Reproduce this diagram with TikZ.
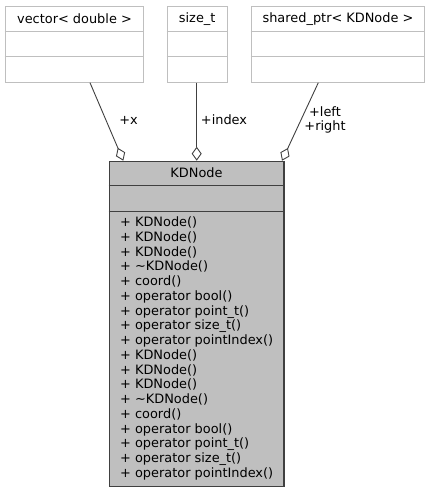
\documentclass[tikz,border=0pt]{standalone}
\usepackage{fontspec}
\setmainfont{DejaVu Sans}
\usetikzlibrary{arrows.meta,calc}
\definecolor{lightedge}{HTML}{BFBFBF}
\definecolor{darkedge}{HTML}{404040}
\definecolor{classfill}{HTML}{BFBFBF}
\begin{document}
\begin{tikzpicture}[x=1pt,y=-1pt,
  extbox/.style={draw=lightedge, line width=1pt, fill=white, rectangle, inner sep=0pt, anchor=north west},
  mainbox/.style={draw=darkedge, line width=1.2pt, fill=classfill, rectangle, inner sep=0pt, anchor=north west},
  txt/.style={inner sep=0pt, font=\fontsize{12.9}{14.76}\selectfont, text=black},
  memb/.style={txt, anchor=base west},
  assoc/.style={draw=darkedge, line width=0.9pt, -{Diamond[open, fill=white, length=14pt, width=10pt]}},
]
\useasboundingbox (0,0) rectangle (431,492);

% external classes
\node[extbox, minimum width=138.6pt, minimum height=76pt] (vec) at (4.7,5.7) {};
\node[extbox, minimum width=60pt, minimum height=76pt] (sz) at (166.7,5.7) {};
\node[extbox, minimum width=173.6pt, minimum height=76pt] (sp) at (250.7,5.7) {};
\foreach \b in {vec,sz,sp}{
  \draw[lightedge, line width=1pt] ($(\b.north west)+(0,26)$) -- ($(\b.north east)+(0,26)$);
  \draw[lightedge, line width=1pt] ($(\b.north west)+(0,51)$) -- ($(\b.north east)+(0,51)$);
}
\node[txt] (vect) at ($(vec.north)+(0,13)$) {vector< double >};
\node[txt] (szt) at ($(sz.north)+(0,13)$) {size\_t};
\node[txt] (spt) at ($(sp.north)+(0,13)$) {shared\_ptr< KDNode >};

% main class
\node[mainbox, minimum width=174.8pt, minimum height=325.3pt] (kd) at (108.5,160.7) {};
\draw[darkedge, line width=1.2pt] ($(kd.north west)+(0,24.5)$) -- ($(kd.north east)+(0,24.5)$);
\draw[darkedge, line width=1.2pt] ($(kd.north west)+(0,50.5)$) -- ($(kd.north east)+(0,50.5)$);
\node[txt] (kdt) at ($(kd.north)+(0,12.2)$) {KDNode};

\foreach \t [count=\i from 0] in {
  + KDNode(), + KDNode(), + KDNode(), + \textasciitilde KDNode(), + coord(),
  + operator bool(), + operator point\_t(), + operator size\_t(), + operator pointIndex(),
  + KDNode(), + KDNode(), + KDNode(), + \textasciitilde KDNode(), + coord(),
  + operator bool(), + operator point\_t(), + operator size\_t(), + operator pointIndex()}{
  \node[memb] (m\i) at ($(kd.north west)+(11.5,65.8+\i*14.76)$) {\t};
}

% connectors
\coordinate (vecout) at ($(vec.south west)+(85.3,0)$);
\coordinate (kdin1) at ($(kd.north west)+(14.8,0)$);
\coordinate (szout) at ($(sz.south west)+(30,0)$);
\coordinate (kdin2) at ($(kd.north west)+(88.2,0)$);
\coordinate (spout) at ($(sp.south west)+(67.6,0)$);
\coordinate (kdin3) at ($(kd.north west)+(173.5,0)$);
\draw[assoc] (vecout) -- (kdin1);
\draw[assoc] (szout) -- (kdin2);
\draw[assoc] (spout) -- (kdin3);

\node[txt] (lx) at (128.5,120) {+x};
\node[txt] (lidx) at (224,120) {+index};
\node[txt, align=center, font=\fontsize{12.9}{14}\selectfont] (llr) at (325,119.7) {+left\\+right};
\end{tikzpicture}
\end{document}
